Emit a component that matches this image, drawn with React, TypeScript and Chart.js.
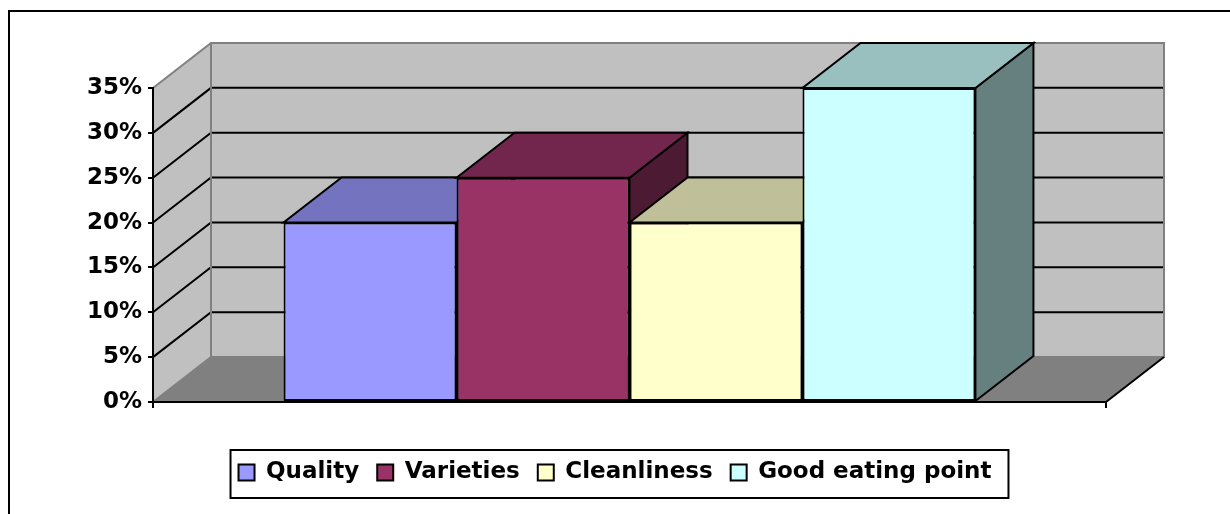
import React, { useEffect, useRef } from 'react';
import { Chart, registerables } from 'chart.js';

Chart.register(...registerables);

// ---- data ----
const categories = [''];
const seriesNames = ['Quality', 'Varieties', 'Cleanliness', 'Good eating point'];
const qualityValues = [0.2];
const varietiesValues = [0.25];
const cleanlinessValues = [0.2];
const goodEatingPointValues = [0.35];
const seriesColors = ['#9999FF', '#993366', '#FFFFCC', '#CCFFFF'];
const yMin = 0;
const yMax = 0.35;
const yStep = 0.05;

// ---- style constants ----
const DEPTH_X = 58;
const DEPTH_Y = -45;
const WALL = '#C0C0C0';
const FLOOR = '#808080';
const EDGE = '#808080';
const FONT = { family: 'DejaVu Sans', size: 23, weight: 'bold' as const };

function shade(hex: string, f: number) {
  const n = parseInt(hex.slice(1), 16);
  const r = Math.round(((n >> 16) & 255) * f);
  const g = Math.round(((n >> 8) & 255) * f);
  const b = Math.round((n & 255) * f);
  return `rgb(${r},${g},${b})`;
}

const excel3d = {
  id: 'excel3d',
  beforeDraw(chart: any) {
    const ctx = chart.ctx;
    const { left, right, top, bottom } = chart.chartArea;
    const dx = DEPTH_X;
    const dy = DEPTH_Y;
    ctx.save();
    ctx.fillStyle = '#fff';
    ctx.fillRect(0, 0, chart.width, chart.height);
    // outer frame
    ctx.strokeStyle = '#000';
    ctx.lineWidth = 2;
    ctx.strokeRect(9, 11, chart.width + 40, chart.height + 40);

    // side wall
    ctx.fillStyle = WALL;
    ctx.beginPath();
    ctx.moveTo(left, bottom);
    ctx.lineTo(left, top);
    ctx.lineTo(left + dx, top + dy);
    ctx.lineTo(left + dx, bottom + dy);
    ctx.closePath();
    ctx.fill();
    // back wall
    ctx.fillRect(left + dx, top + dy, right - left, bottom - top);
    // floor
    ctx.fillStyle = FLOOR;
    ctx.beginPath();
    ctx.moveTo(left, bottom);
    ctx.lineTo(right, bottom);
    ctx.lineTo(right + dx, bottom + dy);
    ctx.lineTo(left + dx, bottom + dy);
    ctx.closePath();
    ctx.fill();

    // gridlines
    const ys = chart.scales.y;
    ctx.strokeStyle = '#000';
    ctx.lineWidth = 2;
    ys.ticks.forEach((t: any) => {
      if (t.value <= yMin + 1e-9 || t.value >= yMax - 1e-9) return;
      const y = ys.getPixelForValue(t.value);
      ctx.beginPath();
      ctx.moveTo(left, y);
      ctx.lineTo(left + dx, y + dy);
      ctx.lineTo(right + dx, y + dy);
      ctx.stroke();
    });

    // wall edges
    ctx.strokeStyle = EDGE;
    ctx.lineWidth = 2;
    ctx.beginPath();
    ctx.moveTo(left, top);
    ctx.lineTo(left + dx, top + dy);
    ctx.lineTo(right + dx, top + dy);
    ctx.lineTo(right + dx, bottom + dy);
    ctx.lineTo(left + dx, bottom + dy);
    ctx.lineTo(left, bottom);
    ctx.moveTo(left + dx, top + dy);
    ctx.lineTo(left + dx, bottom + dy);
    ctx.stroke();
    // floor right edge
    ctx.strokeStyle = '#000';
    ctx.beginPath();
    ctx.moveTo(right, bottom);
    ctx.lineTo(right + dx, bottom + dy);
    ctx.stroke();
    ctx.restore();
  },
  beforeDatasetsDraw(chart: any) {
    const ctx = chart.ctx;
    const dx = DEPTH_X;
    const dy = DEPTH_Y;
    ctx.save();
    ctx.strokeStyle = '#000';
    ctx.lineWidth = 2;
    ctx.lineJoin = 'miter';
    chart.data.datasets.forEach((ds: any, i: number) => {
      const meta = chart.getDatasetMeta(i);
      meta.data.forEach((el: any) => {
        const { x, y, base, width } = el.getProps(['x', 'y', 'base', 'width'], true);
        const xl = x - width / 2;
        const xr = x + width / 2;
        // side face
        ctx.fillStyle = shade(ds.backgroundColor, 0.5);
        ctx.beginPath();
        ctx.moveTo(xr, y);
        ctx.lineTo(xr + dx, y + dy);
        ctx.lineTo(xr + dx, base + dy);
        ctx.lineTo(xr, base);
        ctx.closePath();
        ctx.fill();
        ctx.stroke();
        // top face
        ctx.fillStyle = shade(ds.backgroundColor, 0.75);
        ctx.beginPath();
        ctx.moveTo(xl, y);
        ctx.lineTo(xr, y);
        ctx.lineTo(xr + dx, y + dy);
        ctx.lineTo(xl + dx, y + dy);
        ctx.closePath();
        ctx.fill();
        ctx.stroke();
      });
    });
    ctx.restore();
  },
  afterDraw(chart: any) {
    const lg = chart.legend;
    if (!lg || !lg.legendHitBoxes || !lg.legendHitBoxes.length) return;
    const hb = lg.legendHitBoxes;
    const first = hb[0];
    const last = hb[hb.length - 1];
    const ctx = chart.ctx;
    ctx.save();
    ctx.strokeStyle = '#000';
    ctx.lineWidth = 2;
    const l = first.left - 8;
    const r = last.left + last.width + 17;
    const t = first.top - 11;
    const b = first.top + first.height + 14;
    ctx.strokeRect(l, t, r - l, b - t);
    ctx.restore();
  },
};

export default function App() {
  const ref = useRef<HTMLCanvasElement | null>(null);
  useEffect(() => {
    if (!ref.current) return;
    const values = [qualityValues, varietiesValues, cleanlinessValues, goodEatingPointValues];
    const chart = new Chart(ref.current, {
      type: 'bar',
      data: {
        labels: categories,
        datasets: seriesNames.map((name, i) => ({
          label: name,
          data: values[i],
          backgroundColor: seriesColors[i],
          borderColor: '#000',
          borderWidth: 2,
          borderSkipped: false,
          categoryPercentage: 0.726,
          barPercentage: 1,
          yAxisID: 'y',
          xAxisID: 'x',
        })),
      },
      options: {
        animation: false,
        responsive: true,
        maintainAspectRatio: false,
        events: [],
        layout: { padding: { top: 88, left: 0, right: 0, bottom: 20 } },
        scales: {
          x: {
            type: 'category',
            position: 'bottom',
            grid: { display: true, drawOnChartArea: false, drawTicks: true, tickLength: 6, color: '#000', lineWidth: 2, offset: true },
            border: { display: true, color: '#000', width: 2 },
            ticks: { display: false },
            afterFit: (s: any) => { s.height = 41; },
          },
          y: {
            type: 'linear',
            position: 'left',
            min: yMin,
            max: yMax,
            grid: { display: true, drawOnChartArea: false, drawTicks: true, tickLength: 5, color: '#000', lineWidth: 2 },
            border: { display: true, color: '#000', width: 2 },
            ticks: {
              stepSize: yStep,
              padding: 6,
              color: '#000',
              font: FONT,
              callback: (v: any) => `${Math.round(Number(v) * 100)}%`,
            },
            afterFit: (s: any) => { s.width = 153; },
          },
          yRight: {
            type: 'linear',
            position: 'right',
            display: true,
            grid: { display: false },
            border: { display: false },
            ticks: { display: false },
            afterFit: (s: any) => { s.width = 124; },
          },
        },
        plugins: {
          legend: {
            display: true,
            position: 'bottom',
            labels: {
              boxWidth: 16,
              boxHeight: 16,
              padding: 18,
              color: '#000',
              font: FONT,
            },
          },
          tooltip: { enabled: false },
          title: { display: false },
        },
      },
      plugins: [excel3d],
    } as any);
    return () => chart.destroy();
  }, []);
  return (
    <div style={{ position: 'fixed', left: 0, top: 0, width: 1230, height: 514 }}>
      <canvas ref={ref} />
    </div>
  );
}
